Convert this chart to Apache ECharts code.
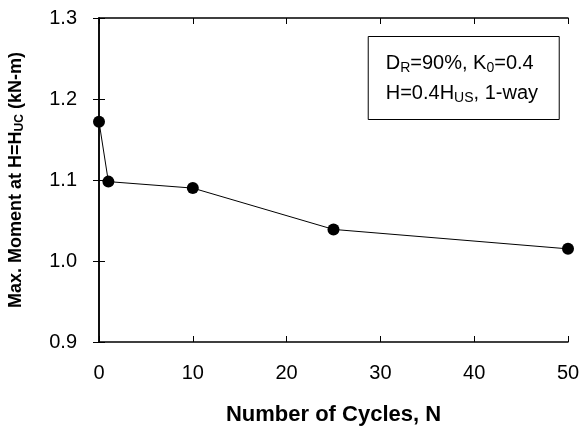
<!DOCTYPE html>
<html>
<head>
<meta charset="utf-8">
<script src="https://cdn.jsdelivr.net/npm/echarts@6/dist/echarts.min.js"></script>
<style>
html,body{margin:0;padding:0;background:#fff;}
#main{width:582px;height:429px;}
</style>
</head>
<body>
<div id="main"></div>
<script>
var cycles = [0, 1, 10, 25, 50];
var moments = [1.172, 1.098, 1.090, 1.039, 1.015];
var xTicks = [0, 10, 20, 30, 40, 50];
var yTicks = [0.9, 1.0, 1.1, 1.2, 1.3];

var FONT = 'Liberation Sans, Arial, Helvetica, sans-serif';
var chart = echarts.init(document.getElementById('main'), null, {renderer: 'canvas'});

var pts = cycles.map(function (c, i) { return [c, moments[i]]; });

var axisLine = {show: true, lineStyle: {color: '#000', width: 1.5}};
var tick = {show: true, inside: true, length: 6, lineStyle: {color: '#000', width: 1}};

chart.setOption({
  backgroundColor: '#fff',
  animation: false,
  grid: {left: 99, right: 14, top: 18, bottom: 87, containLabel: false, outerBoundsMode: 'none'},
  title: {
    right: 23, top: 36,
    borderColor: '#000', borderWidth: 1,
    padding: [12, 21, 12, 18],
    text: '{n|D}{s|R}{n|=90%, K}{s|0}{n|=0.4}\n{n|H=0.4H}{s|US}{n|, 1-way}',
    textStyle: {
      fontFamily: FONT, color: '#000', lineHeight: 30, fontWeight: 'normal',
      rich: {
        n: {fontFamily: FONT, fontSize: 20, fontWeight: 'normal', color: '#000', lineHeight: 30},
        s: {fontFamily: FONT, fontSize: 14, fontWeight: 'normal', color: '#000', lineHeight: 30, padding: [10, 0, 0, 0]}
      }
    }
  },
  xAxis: [{
    type: 'value', min: xTicks[0], max: xTicks[xTicks.length - 1], interval: 10,
    position: 'bottom',
    axisLine: axisLine, axisTick: tick, splitLine: {show: false},
    axisLabel: {fontFamily: FONT, fontSize: 20, color: '#000', margin: 21},
    name: 'Number of Cycles, N', nameLocation: 'middle', nameGap: 62,
    nameTextStyle: {fontFamily: FONT, fontSize: 22, fontWeight: 'bold', color: '#000'}
  }, {
    type: 'value', min: xTicks[0], max: xTicks[xTicks.length - 1], interval: 10,
    position: 'top',
    axisLine: axisLine, axisTick: tick, splitLine: {show: false},
    axisLabel: {show: false}
  }],
  yAxis: [{
    type: 'value', min: yTicks[0], max: yTicks[yTicks.length - 1], interval: 0.1,
    position: 'left',
    axisLine: axisLine, axisTick: tick, splitLine: {show: false},
    axisLabel: {fontFamily: FONT, fontSize: 20, color: '#000', margin: 22,
      formatter: function (v) { return v.toFixed(1); }},
    name: '{b|Max. Moment at H=H}{bs|UC}{b| (kN-m)}', nameLocation: 'middle', nameGap: 71, nameRotate: 90,
    nameTextStyle: {fontFamily: FONT, fontSize: 18, fontWeight: 'bold', color: '#000',
      rich: {
        b: {fontFamily: FONT, fontSize: 18, fontWeight: 'bold', color: '#000', lineHeight: 24},
        bs: {fontFamily: FONT, fontSize: 12, fontWeight: 'bold', color: '#000', lineHeight: 24, padding: [8, 0, 0, 0]}
      }}
  }, {
    type: 'value', min: yTicks[0], max: yTicks[yTicks.length - 1], interval: 0.1,
    position: 'right',
    axisLine: axisLine, axisTick: tick, splitLine: {show: false},
    axisLabel: {show: false}
  }],
  series: [{
    type: 'line', data: pts, xAxisIndex: 0, yAxisIndex: 0,
    symbol: 'circle', symbolSize: 12,
    lineStyle: {color: '#000', width: 1},
    itemStyle: {color: '#000'},
    emphasis: {disabled: true}
  }]
});
</script>
</body>
</html>
